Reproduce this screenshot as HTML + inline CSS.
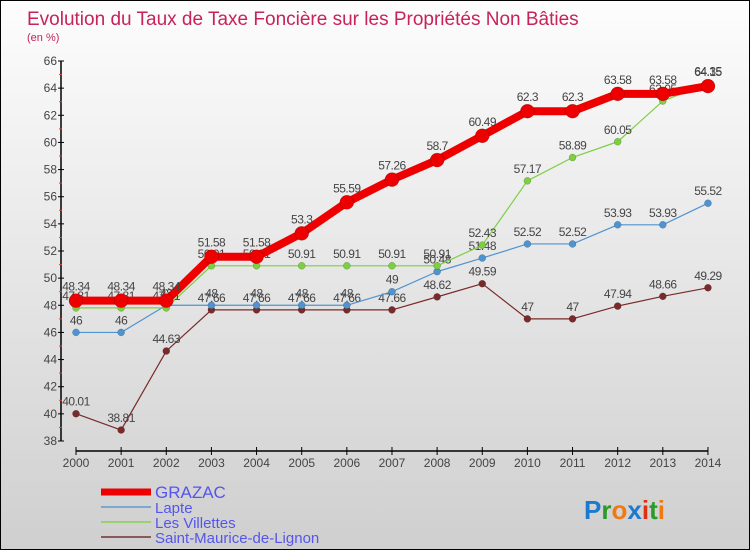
<!DOCTYPE html>
<html><head><meta charset="utf-8"><style>
body{margin:0}
#wrap{width:748px;height:548px;border:1px solid #000;background:linear-gradient(#fdfdfd,#cfcfcf);position:relative;font-family:"Liberation Sans",sans-serif;overflow:hidden}
svg text{font-family:"Liberation Sans",sans-serif}
</style></head><body>
<div id="wrap">
<svg id="c" width="748" height="548">
<text x="26" y="24" font-size="19" fill="#c8225a">Evolution du Taux de Taxe Foncière sur les Propriétés Non Bâties</text>
<text x="26" y="40" font-size="11" fill="#c8225a">(en %)</text>
</svg>
</div>
<script>
const years=[2000,2001,2002,2003,2004,2005,2006,2007,2008,2009,2010,2011,2012,2013,2014];
const grazac=[48.34,48.34,48.34,51.58,51.58,53.3,55.59,57.26,58.7,60.49,62.3,62.3,63.58,63.58,64.15];
const lapte=[46,46,48,48,48,48,48,49,50.48,51.48,52.52,52.52,53.93,53.93,55.52];
const villettes=[47.81,47.81,47.81,50.91,50.91,50.91,50.91,50.91,50.91,52.43,57.17,58.89,60.05,63.05,64.35];
const smdl=[40.01,38.81,44.63,47.66,47.66,47.66,47.66,47.66,48.62,49.59,47,47,47.94,48.66,49.29];
const yTicks=[38,40,42,44,46,48,50,52,54,56,58,60,62,64,66];
const NS="http://www.w3.org/2000/svg";
const svg=document.getElementById('c');
const X=i=>75+i*45.14;
const Y=v=>440-(v-38)*380/28;
function el(t,a,p){const e=document.createElementNS(NS,t);for(const k in a)e.setAttribute(k,a[k]);(p||svg).appendChild(e);return e;}
const ax=el('g',{});


let l=el('line',{x1:60,y1:60,x2:60,y2:440,stroke:'#000','stroke-width':1.5},ax);


l=el('line',{x1:75,y1:450,x2:707,y2:450,stroke:'#000','stroke-width':1.5},ax);


yTicks.forEach(v=>{
 el('line',{x1:57,x2:63,y1:Y(v),y2:Y(v),stroke:'#000'},ax);
 if(v<66) el('line',{x1:58,x2:61,y1:Y(v+1),y2:Y(v+1),stroke:'#f33'},ax);
 const t=el('text',{x:56,y:Y(v)+4,'font-size':12,fill:'#444','text-anchor':'end'},ax);t.textContent=v;
 
 
});
years.forEach((yr,i)=>{
 el('line',{x1:X(i),x2:X(i),y1:446,y2:454,stroke:'#000'},ax);
 const t=el('text',{x:X(i),y:466,'font-size':12,fill:'#444','text-anchor':'middle'},ax);t.textContent=yr;
 
 
});
function series(data,color,w,r,name,dy){
 const g=el('g',{});
 
 
 const p=el('polyline',{points:data.map((v,i)=>X(i)+','+Y(v)).join(' '),fill:'none',stroke:color,'stroke-width':w,'stroke-linejoin':'round'},g);
 
 
 data.forEach((v,i)=>{
  const c=el('circle',{cx:X(i),cy:Y(v),r:r,fill:color,stroke:'rgba(0,0,0,0.3)','stroke-width':0.5},g);
  
  
  const t=el('text',{x:X(i),y:Y(v)-dy,'font-size':12,fill:'#444','text-anchor':'middle','letter-spacing':'-0.5'},g);t.textContent=v;
  
  
 });
}
series(smdl,'#7a2a2a',1.2,3.5,'saint-maurice',8);
series(lapte,'#4f94d0',1.2,3.5,'lapte',8);
series(villettes,'#7dcf40',1.2,3.5,'les-villettes',8);
series(grazac,'#ee0000',8,7,'grazac',10);
const leg=[['GRAZAC','#ee0000',7],['Lapte','#7aa8d0',2],['Les Villettes','#9ad070',2],['Saint-Maurice-de-Lignon','#8a5a5a',2]];
leg.forEach((d,i)=>{
 const g=el('g',{});
 
 
 const y=[493,508,523,538][i];
 el('line',{x1:100,x2:150,y1:y-2,y2:y-2,stroke:d[1],'stroke-width':d[2]},g);
 const t=el('text',{x:154,y:y+4,'font-size':i==0?17:15,fill:'#5555ee'},g);t.textContent=d[0];
});
const lg=el('text',{x:583,y:518,'font-size':26,'font-weight':'bold'});


[['P','#1a7ad0'],['r','#2a9a2a'],['o','#f07a10'],['x','#1a7ad0'],['i','#e03010'],['t','#2a9a2a'],['i','#f07a10']].forEach(c=>{const s=el('tspan',{fill:c[1]},lg);s.textContent=c[0];});
</script>
</body></html>
